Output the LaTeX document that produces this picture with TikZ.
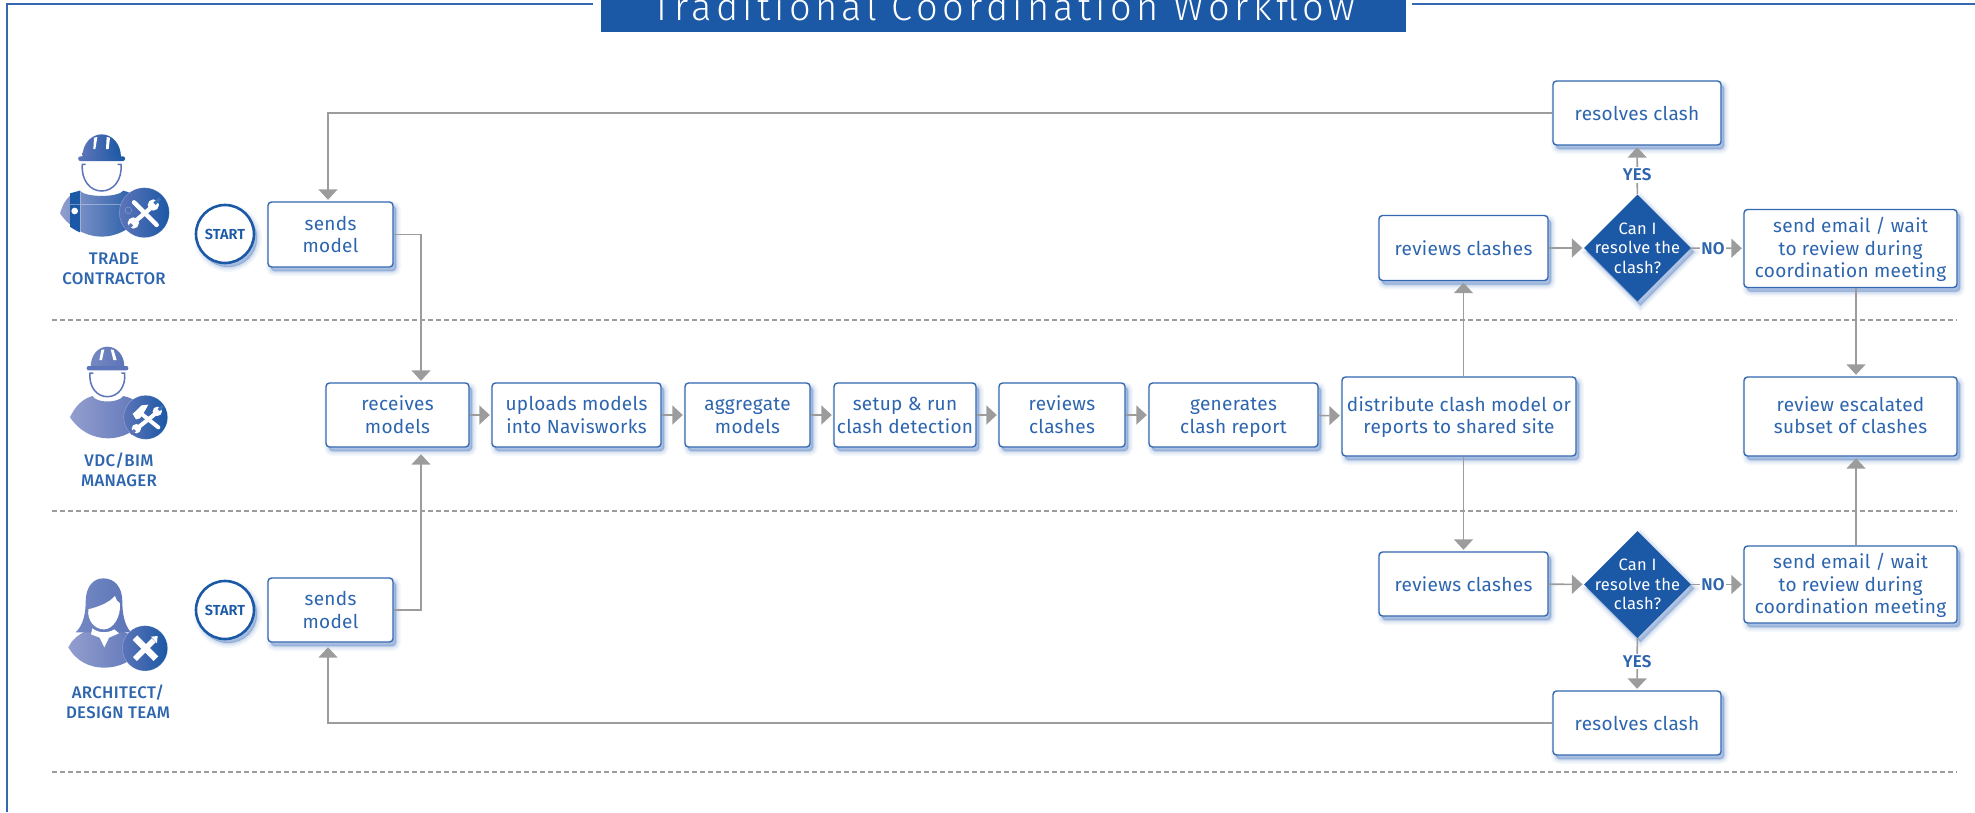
\documentclass[tikz,border=0pt]{standalone}
\usepackage{fontspec}
\setmainfont{Fira Sans}
\newfontfamily\titlefont[UprightFont=* Light,LetterSpace=11.5]{Fira Sans}
\newfontfamily\medfont[UprightFont=* Medium,LetterSpace=2]{Fira Sans}
\newfontfamily\strongfont[UprightFont=* SemiBold,LetterSpace=1]{Fira Sans}
\newfontfamily\bodyfont[LetterSpace=1.7]{Fira Sans}
\usetikzlibrary{arrows.meta,shapes.geometric,shadows}
\definecolor{mainblue}{HTML}{1B58A5}
\definecolor{edgeblue}{HTML}{3468B0}
\definecolor{textblue}{HTML}{2D65AE}
\definecolor{arrowgray}{HTML}{9C9C9C}
\definecolor{shadeblue}{HTML}{3A6CB8}
\definecolor{periA}{HTML}{939ECE}
\definecolor{periB}{HTML}{5C74B8}
\tikzset{
  softshadow/.style={
    general shadow={fill=shadeblue,draw=shadeblue,line width=10pt,opacity=.05,shadow xshift=3pt,shadow yshift=-4pt},
    general shadow={fill=shadeblue,draw=shadeblue,line width=7pt,opacity=.06,shadow xshift=3pt,shadow yshift=-4pt},
    general shadow={fill=shadeblue,draw=shadeblue,line width=4.5pt,opacity=.08,shadow xshift=3pt,shadow yshift=-4pt},
    general shadow={fill=shadeblue,draw=shadeblue,line width=2pt,opacity=.1,shadow xshift=3pt,shadow yshift=-4pt},
    general shadow={fill=shadeblue,draw=shadeblue,line width=.5pt,opacity=.12,shadow xshift=3pt,shadow yshift=-4pt}},
  flowbox/.style={rectangle,rounded corners=3.5pt,draw=edgeblue,line width=1.4pt,fill=white,
    text=textblue,align=center,inner sep=0pt,softshadow,
    execute at begin node={\rule{0pt}{19pt}},execute at end node={\rule[-5pt]{0pt}{5pt}},
    font=\bodyfont\fontsize{19}{22.5}\selectfont},
  twoline/.style={execute at begin node={\rule{0pt}{41.5pt}}},
  twolinetall/.style={execute at begin node={\rule{0pt}{39pt}}},
  threeline/.style={execute at begin node={\rule{0pt}{63pt}}},
  startnode/.style={circle,draw=mainblue,line width=2.6pt,fill=white,minimum size=58pt,inner sep=0pt,
    text=mainblue,softshadow,font=\strongfont\fontsize{14.5}{16}\selectfont},
  decision/.style={diamond,aspect=1,fill=mainblue,minimum width=107pt,minimum height=107pt,inner sep=0pt,softshadow},
  dectext/.style={text=white,align=center,inner sep=0pt,font=\bodyfont\fontsize{16.5}{19.5}\selectfont},
  role/.style={text=textblue,align=center,inner sep=0pt,font=\medfont\fontsize{16.8}{20}\selectfont},
  answer/.style={text=textblue,fill=white,inner sep=1.5pt,font=\strongfont\fontsize{17}{18}\selectfont},
  flow/.style={draw=arrowgray,line width=1.6pt,-{Triangle[width=19pt,length=10.5pt]},shorten >=1.5pt},
  lane/.style={draw=arrowgray,line width=1.1pt,dash pattern=on 5pt off 3pt},
  icon/.style={x=.33333pt,y=-.33333pt},
  tool/.style={draw=white,line cap=round}
}
\begin{document}
\begin{tikzpicture}[x=1pt,y=-1pt]
\useasboundingbox (0,0) rectangle (1975,812);
% frame
\draw[edgeblue,line width=1.3pt] (593,4) -- (7,4) -- (7,812);
\draw[edgeblue,line width=1.3pt] (1412,4) -- (1975,4);
% title
\fill[mainblue] (601,-6) rectangle (1406,32);
\node[anchor=base,text=white,inner sep=0pt,font=\titlefont\fontsize{38}{40}\selectfont] (ttl) at (1003.5,20.5) {Traditional Coordination Workflow};
% lanes
\coordinate (laneA) at (52,320);
\coordinate (laneB) at (52,511);
\coordinate (laneC) at (52,772);
\draw[lane] (laneA) -- (1957,320);
\draw[lane] (laneB) -- (1957,511);
\draw[lane] (laneC) -- (1957,772);
% trade contractor icon
\begin{scope}[shift={(50,125)},icon]
  \shade[left color=periA,middle color=mainblue!90!periB,right color=mainblue]
    (30,265) .. controls (40,235) and (50,210) .. (90,197) .. controls (105,218) and (205,218) .. (220,197)
    .. controls (260,205) and (280,240) .. (280,265) .. controls (250,310) and (200,335) .. (155,335)
    .. controls (110,335) and (60,310) .. (30,265) -- cycle;
  \fill[mainblue] (60,205) -- (90,197) -- (90,322) .. controls (80,318) and (70,312) .. (60,305) -- cycle;
  \fill[white] (74,258) circle (10);
  \draw[white,opacity=.35,line width=.6pt] (60,237) -- (215,237) (90,197) -- (90,325);
  \shade[left color=periB,right color=mainblue] (97,97) .. controls (97,55) and (125,28) .. (155,28)
    .. controls (185,28) and (213,55) .. (213,97) -- cycle;
  \shade[left color=periB,right color=mainblue,rounded corners=2pt] (85,94) rectangle (225,108);
  \fill[white] (132,38) -- (142,36) -- (136,72) -- (130,72) -- cycle;
  \fill[white] (170,36) -- (180,38) -- (176,72) -- (168,72) -- cycle;
  \draw[periB,line width=1.5pt] (107,118) -- (97,118) .. controls (93,165) and (120,198) .. (155,198)
    .. controls (190,198) and (217,165) .. (213,118) -- (203,118);
  \shade[left color=periB,right color=mainblue] (283,263) circle (75);
  \draw[white,opacity=.3,line width=.5pt] (283,263) circle (75);
  \draw[white,opacity=.3,line width=.5pt] (235,256) circle (10);
  \draw[tool,line width=4.4pt] (252,232) -- (320,300);
  \draw[tool,line width=4.4pt] (308,244) -- (252,292);
  \fill[white] (310,240) circle (17);
  \fill[white] (250,294) circle (17);
  \draw[mainblue!85!white,line width=3.4pt] (314,236) -- (330,220);
  \draw[periB,line width=3.4pt] (246,298) -- (230,314);
\end{scope}
\node[role] (roleT) at (114,269) {TRADE\\CONTRACTOR};
% vdc icon
\begin{scope}[shift={(60,340)},icon]
  \shade[left color=periA,right color=periB]
    (30,232) .. controls (45,200) and (65,178) .. (97,168) .. controls (110,190) and (175,190) .. (190,168)
    .. controls (225,175) and (255,200) .. (260,232) .. controls (230,275) and (185,295) .. (145,295)
    .. controls (100,295) and (60,275) .. (30,232) -- cycle;
  \shade[left color=periB!85!white,right color=periB] (92,80) .. controls (92,45) and (115,20) .. (142,20)
    .. controls (170,20) and (193,45) .. (193,80) -- cycle;
  \fill[periB,rounded corners=2pt] (80,78) rectangle (205,91);
  \fill[white] (124,30) -- (133,28) -- (126,60) -- (118,60) -- cycle;
  \fill[white] (152,28) -- (161,30) -- (170,60) -- (160,60) -- cycle;
  \draw[periB,line width=1.5pt] (100,99) -- (90,99) .. controls (86,140) and (110,170) .. (142,170)
    .. controls (175,170) and (198,140) .. (194,99) -- (184,99);
  \shade[left color=periB,right color=mainblue] (257,232) circle (66);
  \draw[white,opacity=.3,line width=.5pt] (257,232) circle (66);
  \draw[tool,line width=4pt] (240,218) -- (295,262);
  \fill[white] (218,222) -- (245,196) -- (265,194) -- (255,212) -- (240,235) -- (228,238) -- cycle;
  \draw[tool,line width=4pt] (285,222) -- (235,262);
  \fill[white] (292,214) circle (14);
  \fill[white] (229,266) circle (14);
  \draw[mainblue!85!white,line width=3pt] (296,210) -- (308,198);
  \draw[periB,line width=3pt] (225,270) -- (213,282);
\end{scope}
\node[role] (roleV) at (119,469.5) {VDC/BIM\\MANAGER};
% architect icon
\begin{scope}[shift={(55,570)},icon]
  \shade[left color=periA,right color=periB]
    (40,232) .. controls (50,212) and (65,195) .. (100,180) -- (190,180)
    .. controls (225,190) and (255,210) .. (262,232) .. controls (235,275) and (190,293) .. (148,293)
    .. controls (105,293) and (65,275) .. (40,232) -- cycle;
  \shade[left color=periB!85!white,right color=periB]
    (62,187) .. controls (85,165) and (92,130) .. (92,95) .. controls (92,50) and (115,25) .. (145,25)
    .. controls (178,25) and (202,50) .. (202,95) .. controls (202,130) and (208,165) .. (228,187) -- cycle;
  \fill[white] (100,118) .. controls (130,110) and (160,100) .. (180,78) .. controls (182,88) and (188,96) .. (195,100)
    .. controls (198,140) and (175,178) .. (147,178) .. controls (118,178) and (96,150) .. (100,118) -- cycle;
  \fill[white] (112,175) .. controls (130,190) and (160,190) .. (178,178) -- (192,190) -- (162,203) -- (148,232) -- (134,203) -- (108,193) -- cycle;
  \shade[left color=periB,right color=mainblue] (270,235) circle (68);
  \draw[white,opacity=.3,line width=.5pt] (270,235) circle (68);
  \draw[draw=white,line width=6.5pt] (240,203) -- (303,266);
  \draw[draw=white,line width=5.5pt] (296,211) -- (240,267);
  \fill[white] (288,200) -- (308,198) -- (306,220) -- cycle;
\end{scope}
\node[role] (roleA) at (118,702) {ARCHITECT/\\DESIGN TEAM};
% start
\node[startnode] (startT) at (225,234) {START};
\node[startnode] (startB) at (225,610) {START};
% boxes
\node[flowbox,twoline,minimum width=125pt,minimum height=65pt] (sendsT) at (330.5,234.5) {sends\\model};
\node[flowbox,twoline,minimum width=125pt,minimum height=64pt] (sendsB) at (330.5,610) {sends\\model};
\node[flowbox,twoline,minimum width=143pt,minimum height=64pt] (receives) at (397.5,415) {receives\\models};
\node[flowbox,twoline,minimum width=169pt,minimum height=64pt] (uploads) at (576.5,415) {uploads models\\into Navisworks};
\node[flowbox,twoline,minimum width=125pt,minimum height=64pt] (aggregate) at (747.5,415) {aggregate\\models};
\node[flowbox,twoline,minimum width=142pt,minimum height=64pt] (setup) at (905,415) {setup \& run\\clash detection};
\node[flowbox,twoline,minimum width=126pt,minimum height=64pt] (reviewsM) at (1062,415) {reviews\\clashes};
\node[flowbox,twoline,minimum width=169pt,minimum height=64pt] (generates) at (1233.5,415) {generates\\clash report};
\node[flowbox,twolinetall,minimum width=234pt,minimum height=79pt] (distribute) at (1459,416.5) {distribute clash model or\\reports to shared site};
\node[flowbox,minimum width=169pt,minimum height=65pt] (reviewsT) at (1463.5,248) {reviews clashes};
\node[flowbox,minimum width=169pt,minimum height=64pt] (reviewsB) at (1463.5,584) {reviews clashes};
\node[flowbox,minimum width=168pt,minimum height=64pt] (resolvesT) at (1637,113) {resolves clash};
\node[flowbox,minimum width=168pt,minimum height=64pt] (resolvesB) at (1637,723) {resolves clash};
\node[flowbox,threeline,minimum width=213pt,minimum height=78pt] (emailT) at (1850.5,248.5) {send email / wait\\to review during\\coordination meeting};
\node[flowbox,threeline,minimum width=213pt,minimum height=77pt] (emailB) at (1850.5,584.5) {send email / wait\\to review during\\coordination meeting};
\node[flowbox,twolinetall,minimum width=213pt,minimum height=79pt] (escalated) at (1850.5,416.5) {review escalated\\subset of clashes};
\node[decision,label={[dectext]center:Can I\\resolve the\\clash?}] (decT) at (1637.5,248) {};
\node[decision,label={[dectext]center:Can I\\resolve the\\clash?}] (decB) at (1637.5,584.5) {};
% connectors
\coordinate (topLeft) at (328,113);
\coordinate (botLeft) at (328,723);
\coordinate (joinX) at (421,300);
\coordinate (escX) at (1856,300);
\draw[flow] (resolvesT.west) -- (topLeft) -- (sendsT.north -| topLeft);
\draw[flow] (resolvesB.west) -- (botLeft) -- ([yshift=-3pt]sendsB.south -| topLeft);
\draw[flow] (sendsT.east) -| (receives.north -| joinX);
\draw[flow] (sendsB.east) -| ([yshift=-5pt]receives.south -| joinX);
\draw[flow] (receives) -- (uploads);
\draw[flow] (uploads) -- (aggregate);
\draw[flow] (aggregate) -- (setup);
\draw[flow] (setup) -- (reviewsM);
\draw[flow] (reviewsM) -- (generates);
\draw[flow] (generates) -- (distribute);
\draw[flow] (distribute.north -| reviewsT.south) -- (reviewsT.south);
\draw[flow] (distribute.south -| reviewsB.north) -- (reviewsB.north);
\draw[flow] (reviewsT) -- (decT);
\draw[flow] (reviewsB) -- (decB);
\draw[flow] (decT) -- (emailT) node[answer,pos=.42] (noT) {NO};
\draw[flow] (decB) -- (emailB) node[answer,pos=.42] (noB) {NO};
\draw[flow] (decT) -- (resolvesT) node[answer,pos=.4] (yesT) {YES};
\draw[flow] (decB) -- (resolvesB) node[answer,pos=.45] (yesB) {YES};
\draw[flow] (emailT.south -| escX) -- (escalated.north -| escX);
\draw[flow] (emailB.north -| escX) -- (escalated.south -| escX);
\end{tikzpicture}
\end{document}
